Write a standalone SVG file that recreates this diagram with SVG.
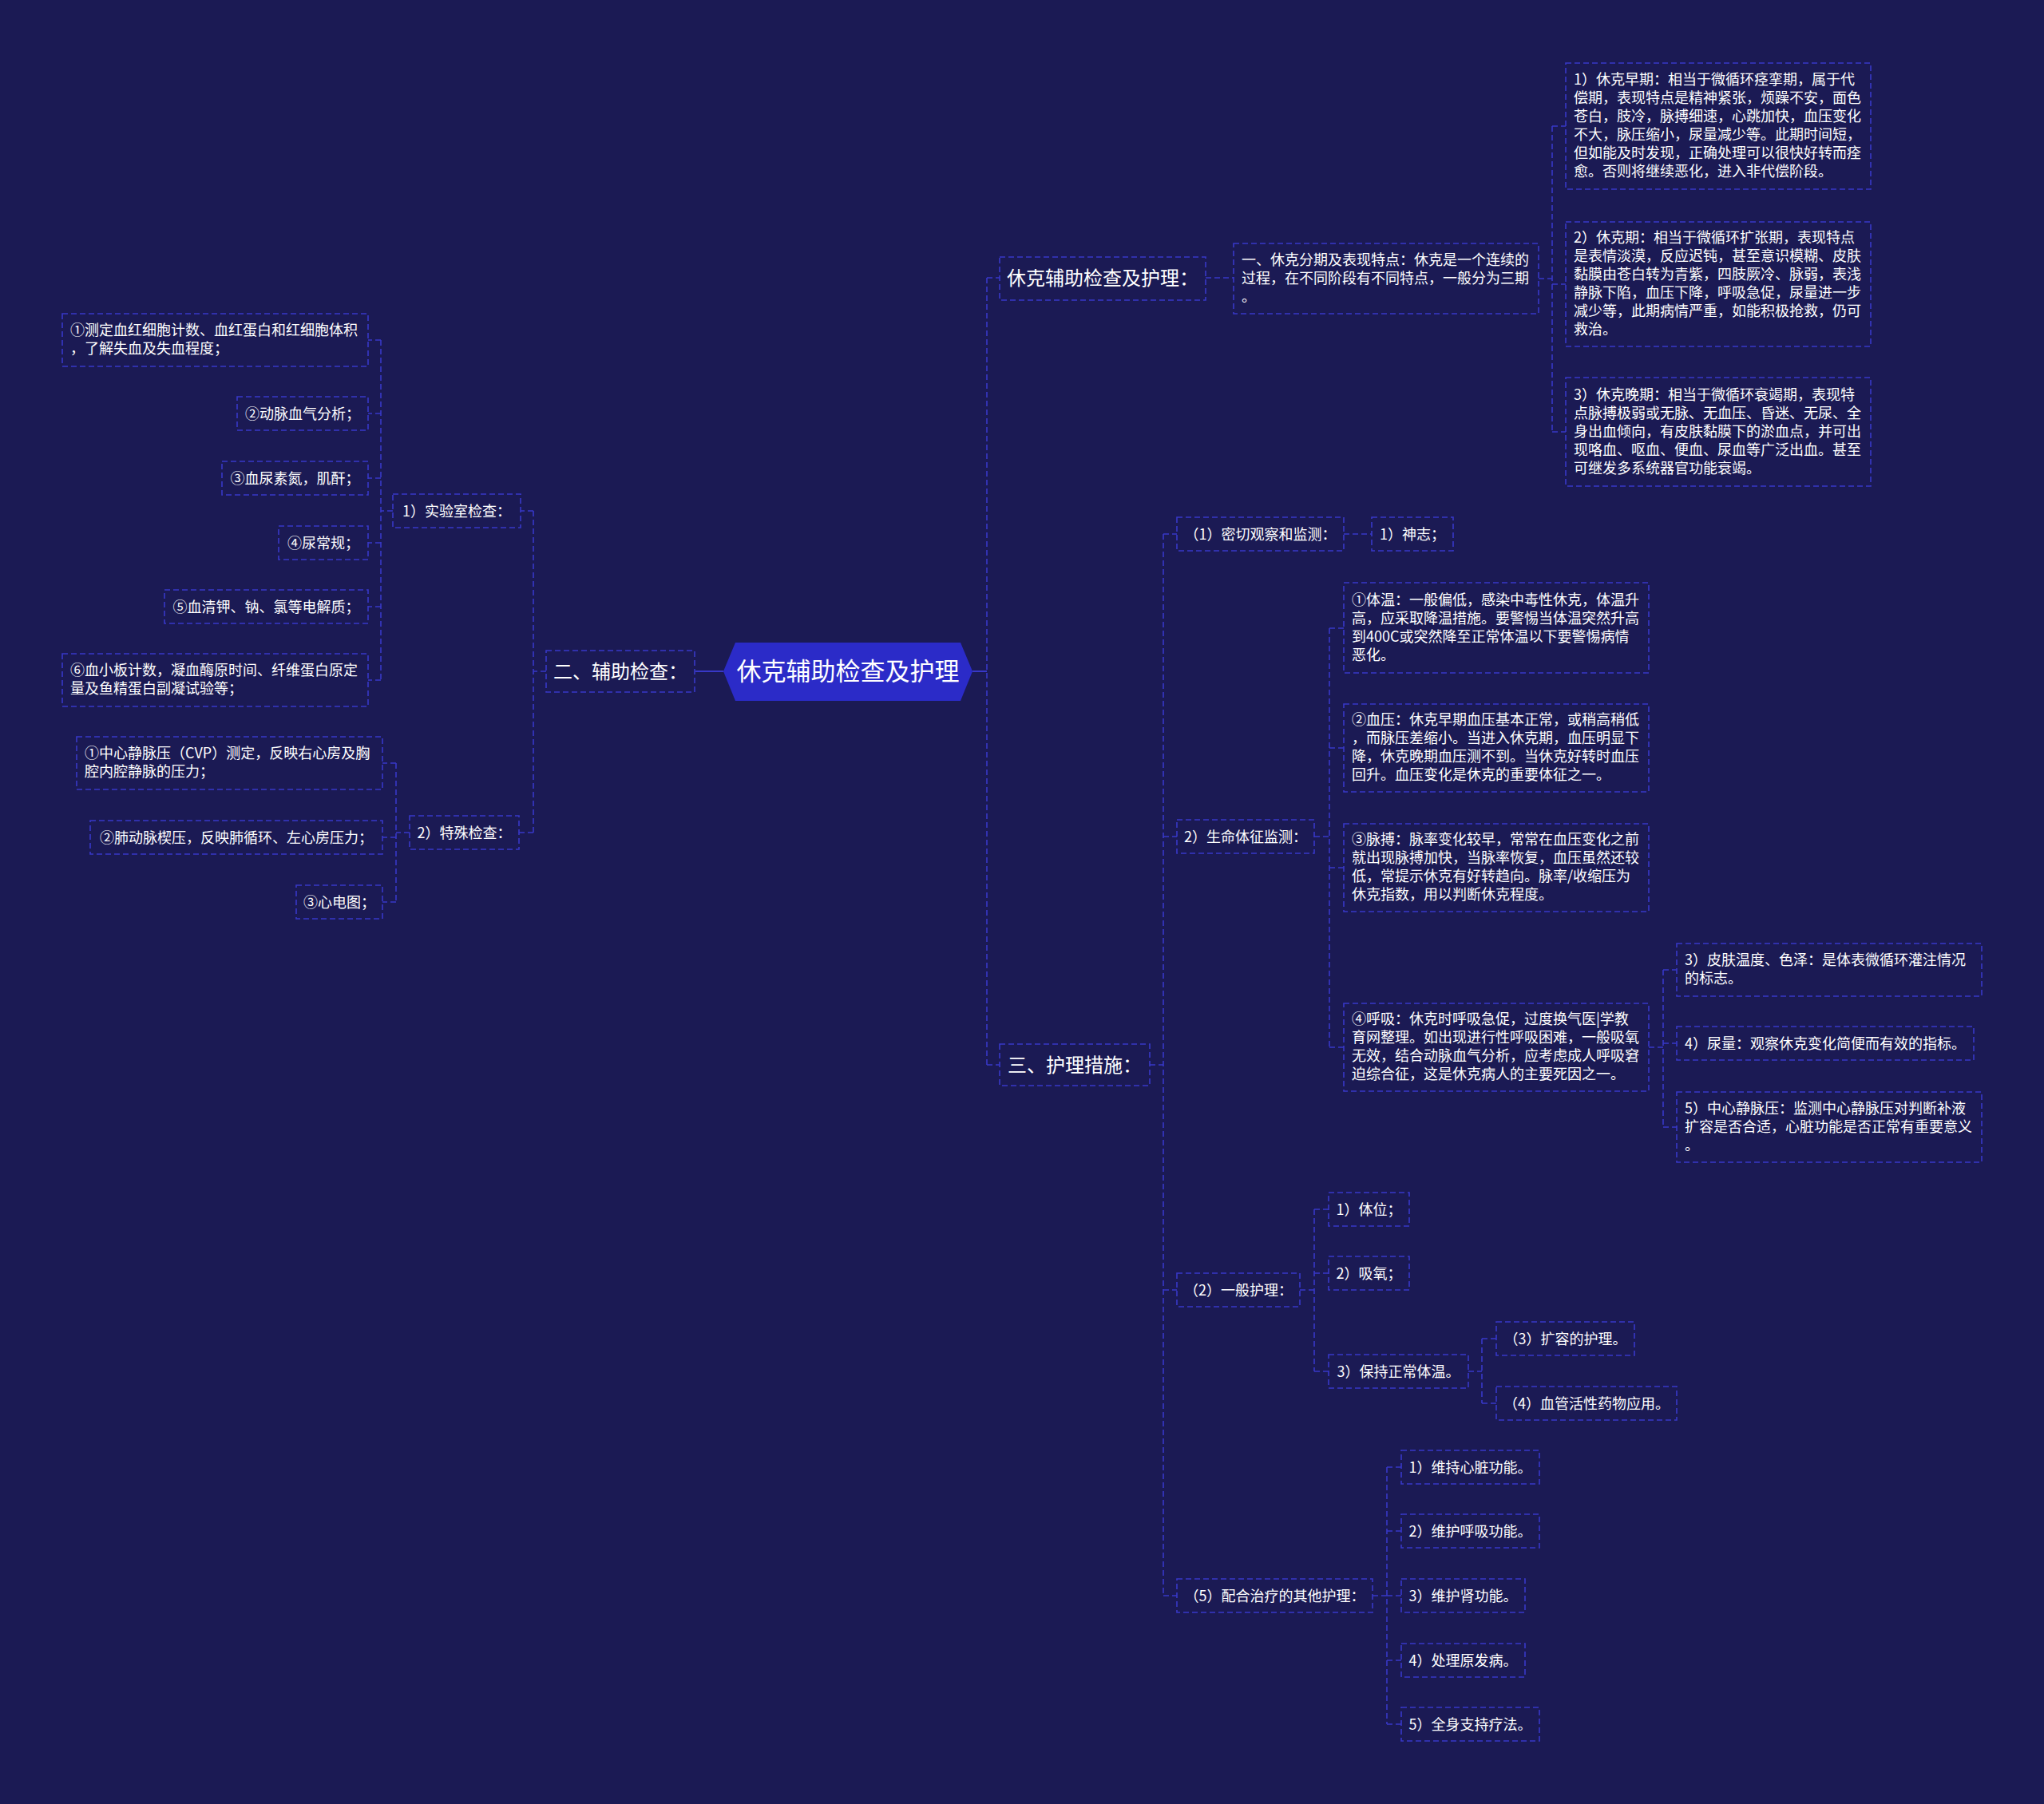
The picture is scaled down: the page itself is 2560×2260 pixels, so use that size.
<svg xmlns="http://www.w3.org/2000/svg" width="2560" height="2260" viewBox="0 0 2560 2260">
<style>
.bg{fill:#1b1a54}
.bx{fill:#1b1a54;stroke:#3838c8;stroke-width:1.6;stroke-dasharray:7 4}
.cn{fill:none;stroke:#3838c8;stroke-width:1.6;stroke-dasharray:7 4}
.sl{fill:none;stroke:#3838c8;stroke-width:2}
.t{font-family:"Noto Sans CJK SC","Noto Sans",sans-serif;fill:#ffffff;font-size:18px}
.m{text-anchor:middle}
.l1{font-size:24px}
.root{font-size:31px}
</style>
<rect class="bg" x="0" y="0" width="2560" height="2260"/>
<g id="connectors">
<line class="sl" x1="871" y1="841" x2="906" y2="841"/>
<line class="sl" x1="1218" y1="841" x2="1236" y2="841"/>
<path class="cn" d="M1236,348 V1334 M1236,348 H1252 M1236,1334 H1252"/>
<path class="cn" d="M1510,348 H1545"/>
<path class="cn" d="M1927,349 H1944 M1944,158 V541 M1944,158 H1961 M1944,356 H1961 M1944,541 H1961"/>
<path class="cn" d="M684,841 H668 M668,640 V1043 M668,640 H652 M668,1043 H650"/>
<path class="cn" d="M492,640 H477 M477,426 V852 M477,426 H461 M477,518 H461 M477,599 H461 M477,680 H461 M477,760 H461 M477,852 H461"/>
<path class="cn" d="M513,1043 H496 M496,956 V1130 M496,956 H479 M496,1049 H479 M496,1130 H479"/>
<path class="cn" d="M1440,1334 H1457 M1457,669 V1999 M1457,669 H1474 M1457,1048 H1474 M1457,1616 H1474 M1457,1999 H1474"/>
<path class="cn" d="M1683,669 H1718"/>
<path class="cn" d="M1646,1048 H1665 M1665,787 V1312 M1665,787 H1683 M1665,937 H1683 M1665,1087 H1683 M1665,1312 H1683"/>
<path class="cn" d="M2065,1312 H2083 M2083,1215 V1412 M2083,1215 H2100 M2083,1307 H2100 M2083,1412 H2100"/>
<path class="cn" d="M1628,1616 H1646 M1646,1515 V1718 M1646,1515 H1664 M1646,1595 H1664 M1646,1718 H1664"/>
<path class="cn" d="M1839,1718 H1856 M1856,1677 V1758 M1856,1677 H1874 M1856,1758 H1874"/>
<path class="cn" d="M1719,1999 H1737 M1737,1838 V2160 M1737,1838 H1755 M1737,1918 H1755 M1737,1999 H1755 M1737,2080 H1755 M1737,2160 H1755"/>
</g>
<g id="root">
<polygon points="906,841 921,805 1203,805 1218,841 1203,878 921,878" fill="#2b2bc8"/>
<text class="t m root" x="1062" y="852">休克辅助检查及护理</text>
</g>
<g id="n-xiuke">
<rect class="bx" x="1252" y="322" width="258" height="54"/>
<text class="t m l1" x="1381" y="357">休克辅助检查及护理：</text>
</g>
<g id="n-fenqi">
<rect class="bx" x="1545" y="305" width="382" height="88"/>
<text class="t" x="1555" y="331.5">一、休克分期及表现特点：休克是一个连续的</text>
<text class="t" x="1555" y="354.5">过程，在不同阶段有不同特点，一般分为三期</text>
<text class="t" x="1555" y="377.5">。</text>
</g>
<g id="n-zaoqi">
<rect class="bx" x="1961" y="79" width="382" height="158"/>
<text class="t" x="1971" y="106">1）休克早期：相当于微循环痉挛期，属于代</text>
<text class="t" x="1971" y="129">偿期，表现特点是精神紧张，烦躁不安，面色</text>
<text class="t" x="1971" y="152">苍白，肢冷，脉搏细速，心跳加快，血压变化</text>
<text class="t" x="1971" y="175">不大，脉压缩小，尿量减少等。此期时间短，</text>
<text class="t" x="1971" y="198">但如能及时发现，正确处理可以很快好转而痊</text>
<text class="t" x="1971" y="221">愈。否则将继续恶化，进入非代偿阶段。</text>
</g>
<g id="n-xiukeqi">
<rect class="bx" x="1961" y="278" width="382" height="156"/>
<text class="t" x="1971" y="304">2）休克期：相当于微循环扩张期，表现特点</text>
<text class="t" x="1971" y="327">是表情淡漠，反应迟钝，甚至意识模糊、皮肤</text>
<text class="t" x="1971" y="350">黏膜由苍白转为青紫，四肢厥冷、脉弱，表浅</text>
<text class="t" x="1971" y="373">静脉下陷，血压下降，呼吸急促，尿量进一步</text>
<text class="t" x="1971" y="396">减少等，此期病情严重，如能积极抢救，仍可</text>
<text class="t" x="1971" y="419">救治。</text>
</g>
<g id="n-wanqi">
<rect class="bx" x="1961" y="473" width="382" height="136"/>
<text class="t" x="1971" y="500.5">3）休克晚期：相当于微循环衰竭期，表现特</text>
<text class="t" x="1971" y="523.5">点脉搏极弱或无脉、无血压、昏迷、无尿、全</text>
<text class="t" x="1971" y="546.5">身出血倾向，有皮肤黏膜下的淤血点，并可出</text>
<text class="t" x="1971" y="569.5">现咯血、呕血、便血、尿血等广泛出血。甚至</text>
<text class="t" x="1971" y="592.5">可继发多系统器官功能衰竭。</text>
</g>
<g id="n-fuzhu">
<rect class="bx" x="684" y="815" width="186" height="52"/>
<text class="t m l1" x="777" y="849.5">二、辅助检查：</text>
</g>
<g id="n-shiyanshi">
<rect class="bx" x="492" y="619" width="160" height="42"/>
<text class="t m" x="572" y="646.5">1）实验室检查：</text>
</g>
<g id="n-s1">
<rect class="bx" x="78" y="393" width="383" height="66"/>
<text class="t" x="88" y="420">①测定血红细胞计数、血红蛋白和红细胞体积</text>
<text class="t" x="88" y="443">，了解失血及失血程度；</text>
</g>
<g id="n-s2">
<rect class="bx" x="297" y="497" width="164" height="42"/>
<text class="t m" x="379" y="524.5">②动脉血气分析；</text>
</g>
<g id="n-s3">
<rect class="bx" x="278" y="578" width="183" height="42"/>
<text class="t m" x="369.5" y="605.5">③血尿素氮，肌酐；</text>
</g>
<g id="n-s4">
<rect class="bx" x="349" y="659" width="112" height="42"/>
<text class="t m" x="405" y="686.5">④尿常规；</text>
</g>
<g id="n-s5">
<rect class="bx" x="206" y="739" width="255" height="42"/>
<text class="t m" x="333.5" y="766.5">⑤血清钾、钠、氯等电解质；</text>
</g>
<g id="n-s6">
<rect class="bx" x="78" y="819" width="383" height="66"/>
<text class="t" x="88" y="846">⑥血小板计数，凝血酶原时间、纤维蛋白原定</text>
<text class="t" x="88" y="869">量及鱼精蛋白副凝试验等；</text>
</g>
<g id="n-teshu">
<rect class="bx" x="513" y="1022" width="137" height="42"/>
<text class="t m" x="581.5" y="1049.5">2）特殊检查：</text>
</g>
<g id="n-t1">
<rect class="bx" x="96" y="923" width="383" height="66"/>
<text class="t" x="106" y="950">①中心静脉压（CVP）测定，反映右心房及胸</text>
<text class="t" x="106" y="973">腔内腔静脉的压力；</text>
</g>
<g id="n-t2">
<rect class="bx" x="113" y="1028" width="366" height="42"/>
<text class="t m" x="296" y="1055.5">②肺动脉楔压，反映肺循环、左心房压力；</text>
</g>
<g id="n-t3">
<rect class="bx" x="371" y="1109" width="108" height="42"/>
<text class="t m" x="425" y="1136.5">③心电图；</text>
</g>
<g id="n-huli">
<rect class="bx" x="1252" y="1308" width="188" height="52"/>
<text class="t m l1" x="1346" y="1342.5">三、护理措施：</text>
</g>
<g id="n-guancha">
<rect class="bx" x="1474" y="648" width="209" height="42"/>
<text class="t m" x="1578.5" y="675.5">（1）密切观察和监测：</text>
</g>
<g id="n-shenzhi">
<rect class="bx" x="1718" y="648" width="102" height="42"/>
<text class="t m" x="1769" y="675.5">1）神志；</text>
</g>
<g id="n-tizheng">
<rect class="bx" x="1474" y="1027" width="172" height="42"/>
<text class="t m" x="1560" y="1054.5">2）生命体征监测：</text>
</g>
<g id="n-tiwen">
<rect class="bx" x="1683" y="730" width="382" height="113"/>
<text class="t" x="1693" y="757.5">①体温：一般偏低，感染中毒性休克，体温升</text>
<text class="t" x="1693" y="780.5">高，应采取降温措施。要警惕当体温突然升高</text>
<text class="t" x="1693" y="803.5">到400C或突然降至正常体温以下要警惕病情</text>
<text class="t" x="1693" y="826.5">恶化。</text>
</g>
<g id="n-xueya">
<rect class="bx" x="1683" y="882" width="382" height="110"/>
<text class="t" x="1693" y="908">②血压：休克早期血压基本正常，或稍高稍低</text>
<text class="t" x="1693" y="931">，而脉压差缩小。当进入休克期，血压明显下</text>
<text class="t" x="1693" y="954">降，休克晚期血压测不到。当休克好转时血压</text>
<text class="t" x="1693" y="977">回升。血压变化是休克的重要体征之一。</text>
</g>
<g id="n-maibo">
<rect class="bx" x="1683" y="1032" width="382" height="110"/>
<text class="t" x="1693" y="1058">③脉搏：脉率变化较早，常常在血压变化之前</text>
<text class="t" x="1693" y="1081">就出现脉搏加快，当脉率恢复，血压虽然还较</text>
<text class="t" x="1693" y="1104">低，常提示休克有好转趋向。脉率/收缩压为</text>
<text class="t" x="1693" y="1127">休克指数，用以判断休克程度。</text>
</g>
<g id="n-huxi">
<rect class="bx" x="1683" y="1257" width="382" height="110"/>
<text class="t" x="1693" y="1283">④呼吸：休克时呼吸急促，过度换气医|学教</text>
<text class="t" x="1693" y="1306">育网整理。如出现进行性呼吸困难，一般吸氧</text>
<text class="t" x="1693" y="1329">无效，结合动脉血气分析，应考虑成人呼吸窘</text>
<text class="t" x="1693" y="1352">迫综合征，这是休克病人的主要死因之一。</text>
</g>
<g id="n-pifu">
<rect class="bx" x="2100" y="1182" width="382" height="66"/>
<text class="t" x="2110" y="1209">3）皮肤温度、色泽：是体表微循环灌注情况</text>
<text class="t" x="2110" y="1232">的标志。</text>
</g>
<g id="n-niaoliang">
<rect class="bx" x="2100" y="1286" width="372" height="42"/>
<text class="t m" x="2286" y="1313.5">4）尿量：观察休克变化简便而有效的指标。</text>
</g>
<g id="n-cvp">
<rect class="bx" x="2100" y="1368" width="382" height="88"/>
<text class="t" x="2110" y="1394.5">5）中心静脉压：监测中心静脉压对判断补液</text>
<text class="t" x="2110" y="1417.5">扩容是否合适，心脏功能是否正常有重要意义</text>
<text class="t" x="2110" y="1440.5">。</text>
</g>
<g id="n-yiban">
<rect class="bx" x="1474" y="1595" width="154" height="42"/>
<text class="t m" x="1551" y="1622.5">（2）一般护理：</text>
</g>
<g id="n-tiwei">
<rect class="bx" x="1664" y="1494" width="101" height="42"/>
<text class="t m" x="1714.5" y="1521.5">1）体位；</text>
</g>
<g id="n-xiyang">
<rect class="bx" x="1664" y="1574" width="101" height="42"/>
<text class="t m" x="1714.5" y="1601.5">2）吸氧；</text>
</g>
<g id="n-baochi">
<rect class="bx" x="1664" y="1697" width="175" height="42"/>
<text class="t m" x="1751.5" y="1724.5">3）保持正常体温。</text>
</g>
<g id="n-kuorong">
<rect class="bx" x="1874" y="1656" width="173" height="42"/>
<text class="t m" x="1960.5" y="1683.5">（3）扩容的护理。</text>
</g>
<g id="n-yaowu">
<rect class="bx" x="1874" y="1737" width="226" height="42"/>
<text class="t m" x="1987" y="1764.5">（4）血管活性药物应用。</text>
</g>
<g id="n-peihe">
<rect class="bx" x="1474" y="1978" width="245" height="42"/>
<text class="t m" x="1596.5" y="2005.5">（5）配合治疗的其他护理：</text>
</g>
<g id="n-p1">
<rect class="bx" x="1755" y="1817" width="173" height="42"/>
<text class="t m" x="1841.5" y="1844.5">1）维持心脏功能。</text>
</g>
<g id="n-p2">
<rect class="bx" x="1755" y="1897" width="173" height="42"/>
<text class="t m" x="1841.5" y="1924.5">2）维护呼吸功能。</text>
</g>
<g id="n-p3">
<rect class="bx" x="1755" y="1978" width="155" height="42"/>
<text class="t m" x="1832.5" y="2005.5">3）维护肾功能。</text>
</g>
<g id="n-p4">
<rect class="bx" x="1755" y="2059" width="155" height="42"/>
<text class="t m" x="1832.5" y="2086.5">4）处理原发病。</text>
</g>
<g id="n-p5">
<rect class="bx" x="1755" y="2139" width="173" height="42"/>
<text class="t m" x="1841.5" y="2166.5">5）全身支持疗法。</text>
</g>
</svg>
